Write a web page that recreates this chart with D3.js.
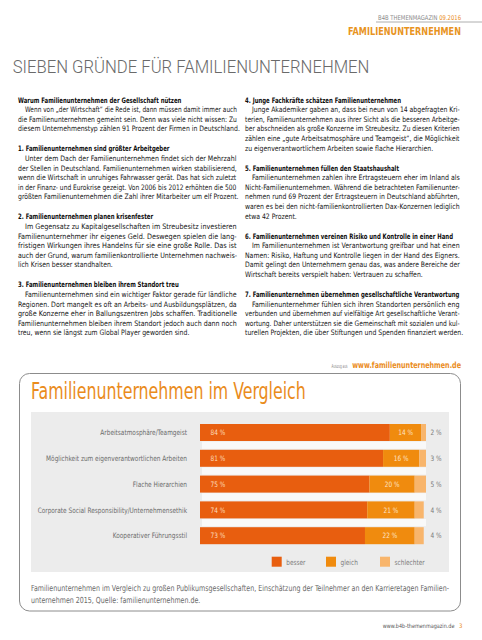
<!DOCTYPE html>
<html><head><meta charset="utf-8">
<script src="https://cdn.jsdelivr.net/npm/d3@7"></script>
<style>html,body{margin:0;padding:0;background:#fff}svg{display:block}</style>
</head><body>
<script>
// ---------- DATA ----------
const categories = [
  "Arbeitsatmosphäre/Teamgeist",
  "Möglichkeit zum eigenverantwortlichen Arbeiten",
  "Flache Hierarchien",
  "Corporate Social Responsibility/Unternehmensethik",
  "Kooperativer Führungsstil"
];
const besser = [84, 81, 75, 74, 73];
const gleich = [14, 16, 20, 21, 22];
const schlechter = [2, 3, 5, 4, 4];
const seriesKeys = ["besser", "gleich", "schlechter"];
const seriesColors = ["#e85e0f", "#f08b0e", "#f8b56c"];

const leftParagraphs = [
  {head: "Warum Familienunternehmen der Gesellschaft nützen", lines: [
    "Wenn von „der Wirtschaft“ die Rede ist, dann müssen damit immer auch",
    "die Familienunternehmen gemeint sein. Denn was viele nicht wissen: Zu",
    "diesem Unternehmenstyp zählen 91 Prozent der Firmen in Deutschland."]},
  {head: "1. Familienunternehmen sind größter Arbeitgeber", lines: [
    "Unter dem Dach der Familienunternehmen findet sich der Mehrzahl",
    "der Stellen in Deutschland. Familienunternehmen wirken stabilisierend,",
    "wenn die Wirtschaft in unruhiges Fahrwasser gerät. Das hat sich zuletzt",
    "in der Finanz- und Eurokrise gezeigt. Von 2006 bis 2012 erhöhten die 500",
    "größten Familienunternehmen die Zahl ihrer Mitarbeiter um elf Prozent."]},
  {head: "2. Familienunternehmen planen krisenfester", lines: [
    "Im Gegensatz zu Kapitalgesellschaften im Streubesitz investieren",
    "Familienunternehmer ihr eigenes Geld. Deswegen spielen die lang-",
    "fristigen Wirkungen ihres Handelns für sie eine große Rolle. Das ist",
    "auch der Grund, warum familienkontrollierte Unternehmen nachweis-",
    "lich Krisen besser standhalten."]},
  {head: "3. Familienunternehmen bleiben ihrem Standort treu", lines: [
    "Familienunternehmen sind ein wichtiger Faktor gerade für ländliche",
    "Regionen. Dort mangelt es oft an Arbeits- und Ausbildungsplätzen, da",
    "große Konzerne eher in Ballungszentren Jobs schaffen. Traditionelle",
    "Familienunternehmen bleiben ihrem Standort jedoch auch dann noch",
    "treu, wenn sie längst zum Global Player geworden sind."]}
];
const rightParagraphs = [
  {head: "4. Junge Fachkräfte schätzen Familienunternehmen", lines: [
    "Junge Akademiker gaben an, dass bei neun von 14 abgefragten Kri-",
    "terien, Familienunternehmen aus ihrer Sicht als die besseren Arbeitge-",
    "ber abschneiden als große Konzerne im Streubesitz. Zu diesen Kriterien",
    "zählen eine „gute Arbeitsatmosphäre und Teamgeist“, die Möglichkeit",
    "zu eigenverantwortlichem Arbeiten sowie flache Hierarchien."]},
  {head: "5. Familienunternehmen füllen den Staatshaushalt", lines: [
    "Familienunternehmen zahlen ihre Ertragsteuern eher im Inland als",
    "Nicht-Familienunternehmen. Während die betrachteten Familienunter-",
    "nehmen rund 69 Prozent der Ertragsteuern in Deutschland abführten,",
    "waren es bei den nicht-familienkontrollierten Dax-Konzernen lediglich",
    "etwa 42 Prozent."]},
  {head: "6. Familienunternehmen vereinen Risiko und Kontrolle in einer Hand", lines: [
    "Im Familienunternehmen ist Verantwortung greifbar und hat einen",
    "Namen: Risiko, Haftung und Kontrolle liegen in der Hand des Eigners.",
    "Damit gelingt den Unternehmern genau das, was andere Bereiche der",
    "Wirtschaft bereits verspielt haben: Vertrauen zu schaffen."]},
  {head: "7. Familienunternehmen übernehmen gesellschaftliche Verantwortung", lines: [
    "Familienunternehmer fühlen sich ihren Standorten persönlich eng",
    "verbunden und übernehmen auf vielfältige Art gesellschaftliche Verant-",
    "wortung. Daher unterstützen sie die Gemeinschaft mit sozialen und kul-",
    "turellen Projekten, die über Stiftungen und Spenden finanziert werden."]}
];
const captionLines = [
  "Familienunternehmen im Vergleich zu großen Publikumsgesellschaften, Einschätzung der Teilnehmer an den Karrieretagen Familien-",
  "unternehmen 2015, Quelle: familienunternehmen.de."
];

// ---------- SETUP ----------
const W = 482, H = 640;
const FONT = "'Liberation Sans Narrow','DejaVu Sans Condensed','Liberation Sans',Arial,sans-serif";
const ORANGE = "#ea8c1c";
const svg = d3.select("body").append("svg").attr("width", W).attr("height", H)
  .style("font-family", FONT);

// text placed via transform so that horizontal condensing is a real scale
function txt(parent, x, y, s) {
  const t = parent.append("text").attr("transform", `translate(${x},${y})`).text(s);
  t.node().__pos = [x, y];
  return t;
}
function natural(t) { return t.node().getComputedTextLength(); }
function fit(t, w) {
  const k = w / natural(t), p = t.node().__pos;
  t.attr("transform", `translate(${p[0]},${p[1]}) scale(${k},1)`);
  return t;
}
function squeeze(t, k) {
  const p = t.node().__pos;
  t.attr("transform", `translate(${p[0]},${p[1]}) scale(${k},1)`);
  return t;
}

// ---------- HEADER ----------
const hdr = txt(svg, 461, 19.5, null).attr("text-anchor", "end")
  .attr("font-size", 6.6).attr("fill", "#8a8a8a");
hdr.append("tspan").text("B4B THEMENMAGAZIN ");
hdr.append("tspan").attr("fill", ORANGE).text("09.2016");
fit(hdr, 83);
svg.append("line").attr("x1", 376).attr("x2", 482).attr("y1", 22).attr("y2", 22)
  .attr("stroke", "#9a9a9a").attr("stroke-width", 0.8);
fit(txt(svg, 461, 35, "FAMILIENUNTERNEHMEN").attr("text-anchor", "end")
  .attr("font-size", 10.5).attr("font-weight", "bold").attr("fill", "#e8941f"), 113);

fit(txt(svg, 12.7, 72.7, "SIEBEN GRÜNDE FÜR FAMILIENUNTERNEHMEN").attr("font-size", 17.6)
  .attr("font-family", "Roboto, 'Open Sans', sans-serif").attr("font-weight", 300)
  .attr("fill", "#6a6a6a"), 357);

// ---------- BODY COLUMNS ----------
const LH = 9.6, GAP = 20, BODY_FS = 7.5;
const bodyG = svg.append("g").attr("font-size", BODY_FS).attr("fill", "#151515");
const ratios = [], lastLines = [], heads = [];
function drawColumn(paras, x0, x1, y0) {
  let y = y0;
  paras.forEach((p, pi) => {
    if (pi > 0) y += GAP - LH;
    heads.push(txt(bodyG, x0, y, p.head).attr("font-weight", "bold").attr("fill", "#0d0d0d"));
    y += LH;
    p.lines.forEach((ln, li) => {
      const ind = li === 0 ? 7 : 0;
      const t = txt(bodyG, x0 + ind, y, ln);
      if (li < p.lines.length - 1) {
        const w = x1 - x0 - ind;
        ratios.push(w / natural(t));
        fit(t, w);
      } else lastLines.push(t);
      y += LH;
    });
  });
}
drawColumn(leftParagraphs, 18, 237, 102.5);
drawColumn(rightParagraphs, 245, 460, 102.5);
const bodyRatio = d3.median(ratios);
lastLines.forEach(t => squeeze(t, bodyRatio));
const headRatio = 215 / natural(heads[heads.length - 1]);
heads.forEach(t => squeeze(t, headRatio));

// Auszug
fit(txt(svg, 461, 367.5, "www.familienunternehmen.de").attr("text-anchor", "end")
  .attr("font-size", 8.6).attr("font-weight", "bold").attr("fill", ORANGE), 109);
fit(txt(svg, 347.5, 367.5, "Auszug aus").attr("text-anchor", "end")
  .attr("font-size", 5.6).attr("fill", "#8a8a8a"), 16);

// ---------- CHART BOX ----------
svg.append("rect").attr("x", 19.5).attr("y", 373.5).attr("width", 441).attr("height", 237.5)
  .attr("rx", 10).attr("fill", "#fff").attr("stroke", "#8c8c8c").attr("stroke-width", 1);
fit(txt(svg, 31, 399, "Familienunternehmen im Vergleich").attr("font-size", 22.5)
  .attr("fill", ORANGE), 275);
svg.append("rect").attr("x", 31).attr("y", 412).attr("width", 418).attr("height", 160)
  .attr("fill", "#ececec");

// scales
const x = d3.scaleLinear().domain([0, 100]).range([200, 426]);
const step = 25.8, bw = 17;
const y = d3.scaleBand().domain(categories)
  .range([424, 424 + (categories.length - 1) * step + bw])
  .paddingInner((step - bw) / step).paddingOuter(0);

const rows = categories.map((c, i) => ({cat: c, besser: besser[i], gleich: gleich[i], schlechter: schlechter[i]}));
const stacked = d3.stack().keys(seriesKeys)(rows);
const color = d3.scaleOrdinal().domain(seriesKeys).range(seriesColors);

const chart = svg.append("g");
chart.selectAll("rect.track").data(categories.slice(0, -1)).join("rect")
  .attr("x", x(0) + 2).attr("width", x(100) - x(0) - 2)
  .attr("y", d => y(d) + y.bandwidth() + 0.6)
  .attr("height", step - y.bandwidth() - 1.6)
  .attr("fill", "#f9f9f9");

chart.selectAll("g.series").data(stacked).join("g")
  .attr("fill", d => color(d.key))
  .selectAll("rect").data(d => d).join("rect")
  .attr("x", d => x(d[0])).attr("width", d => x(d[1]) - x(d[0]))
  .attr("y", d => y(d.data.cat)).attr("height", y.bandwidth());

const FS = 7.4, mid = c => y(c) + y.bandwidth() / 2 + 2.6;
const catLabels = categories.map(c => txt(chart, 187, mid(c), c)
  .attr("text-anchor", "end").attr("font-size", FS).attr("fill", "#6b6b6b"));
const labRatio = 149.3 / natural(catLabels[3]);
catLabels.forEach(t => squeeze(t, labRatio));

const fmt = v => v + " %";
rows.forEach(r => {
  squeeze(txt(chart, x(0) + 10.5, mid(r.cat), fmt(r.besser))
    .attr("font-size", FS).attr("fill", "#fddcbc"), labRatio);
  squeeze(txt(chart, x(r.besser + r.gleich / 2), mid(r.cat), fmt(r.gleich))
    .attr("text-anchor", "middle").attr("font-size", FS).attr("fill", "#fde2c6"), labRatio);
  squeeze(txt(chart, x(100) + 4.5, mid(r.cat), fmt(r.schlechter))
    .attr("font-size", FS).attr("fill", "#7a7a7a"), labRatio);
});

// legend
const legX = [271.7, 326, 380];
seriesKeys.forEach((k, i) => {
  chart.append("rect").attr("x", legX[i]).attr("y", 556.7).attr("width", 10).attr("height", 10)
    .attr("fill", color(k));
  squeeze(txt(chart, legX[i] + 14.5, 564.5, k).attr("font-size", FS).attr("fill", "#7a7a7a"), labRatio);
});

// caption
const cap = svg.append("g").attr("font-size", 8.4).attr("fill", "#6a6a6a");
const c1 = txt(cap, 31, 591, captionLines[0]);
const capRatio = 417.3 / natural(c1);
squeeze(c1, capRatio);
squeeze(txt(cap, 31, 602.8, captionLines[1]), capRatio);

// footer
fit(txt(svg, 454.5, 628, "www.b4b-themenmagazin.de").attr("text-anchor", "end")
  .attr("font-size", 6).attr("fill", "#555"), 72);
txt(svg, 459, 628, "3").attr("font-size", 6).attr("fill", ORANGE);
</script>
</body></html>
